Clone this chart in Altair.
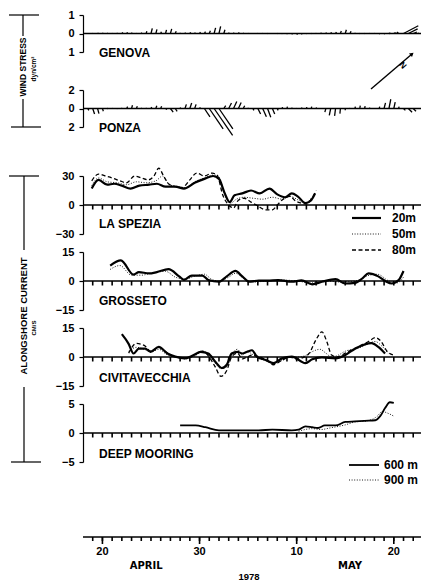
import altair as alt
import pandas as pd

FONT = "Liberation Sans"
W = 338
X_DOMAIN = [18, 52.8]          # days counted from 1 April 1978 (May d = 30 + d)
PX_PER_DAY = W / (X_DOMAIN[1] - X_DOMAIN[0])

# ---------------- wind stress (stick vectors), dyn/cm^2 ----------------
stick_days = [18.5, 19, 19.5, 20, 20.5, 21, 21.5, 22, 22.5, 23, 23.5, 24, 24.5, 25, 25.5,
              26, 26.5, 27, 27.5, 28, 28.5, 29, 29.5, 30, 30.5, 31, 31.5, 32, 32.5, 33,
              33.5, 34, 34.5, 35, 35.5, 36, 36.5, 37, 37.5, 38, 38.5, 39, 39.5, 40, 40.5,
              41, 41.5, 42, 42.5, 43, 43.5, 44, 44.5, 45, 45.5, 46, 46.5, 47, 47.5, 48,
              48.5, 49, 49.5, 50, 50.5, 51, 51.5, 52, 52.5]
genova_u = [0, 0.02, 0.05, 0.05, 0.03, 0.02, 0.03, 0.06, 0.05, 0.04,
            0.02, 0.03, 0.04, 0.07, 0.06, 0.04, 0.05, 0.07, 0.05, 0.02,
            0.03, 0.05, 0.04, 0.05, 0.06, 0.06, 0.08, 0.09, 0.06, 0.03,
            0.04, 0.05, 0.03, 0.02, 0, 0.02, 0.02, 0.01, 0, 0.01,
            0.02, 0.03, 0.04, 0.05, 0.04, 0.02, 0.01, 0.02, 0.03, 0.04,
            0.05, 0.05, 0.05, 0.06, 0.05, 0.03, 0.01, 0.01, 0.02, 0.02,
            0.04, 0.05, 0.08, 0.10, -0.10, 0.80, 0.50, 0.20, 0.05]
genova_v = [0, 0.01, 0.02, 0.03, 0.02, 0.01, 0.02, 0.05, 0.06, 0.04,
            0.01, 0.05, 0.12, 0.28, 0.22, 0.10, 0.20, 0.25, 0.12, 0.03,
            0.05, 0.06, 0.05, 0.08, 0.10, 0.15, 0.30, 0.38, 0.20, 0.05,
            0.04, 0.05, 0.03, 0.01, 0, 0.01, 0.01, 0, 0, 0,
            -0.02, -0.03, -0.04, -0.05, -0.04, -0.02, 0, 0.02, 0.04, 0.05,
            0.06, 0.08, 0.14, 0.20, 0.12, 0.03, 0, 0, 0.01, 0.01,
            -0.02, -0.03, 0.02, 0.05, 0.08, 0.42, 0.25, 0.08, 0.02]
ponza_u = [0.10, 0.20, 0.15, 0.10, 0.05, 0.05, 0.05, 0.05, 0.10, 0.10,
           0.10, 0.05, 0.05, 0.08, 0.10, 0.10, 0.15, 0.30, 0.20, 0.05,
           0.15, 0.20, 0.15, 0.10, 0.60, 1.50, 2.00, 1.50, 0.20, 0.30,
           0.35, 0.30, 0.15, 0.05, 0.10, 0.30, 0.40, 0.35, 0.25, 0.10,
           0.05, 0.05, 0.03, 0.02, 0.05, 0.05, 0.05, 0.05, 0, -0.10,
           -0.15, -0.10, -0.05, 0, 0.02, 0.05, 0.05, 0.05, 0.02, 0,
           0.05, 0.15, 0.20, 0.15, 0.05, 0.20, 0.40, 0.30, 0]
ponza_v = [-0.20, -0.60, -0.55, -0.30, 0, 0.02, -0.03, 0.05, 0.20, 0.35,
           0.25, 0.05, 0.05, 0.15, 0.30, 0.25, -0.10, -0.40, -0.30, 0.10,
           0.45, 0.60, 0.45, 0.10, -0.90, -2.20, -2.90, -2.20, 0.30, 0.60,
           0.75, 0.65, 0.30, 0.05, -0.20, -0.60, -0.90, -0.95, -0.60, -0.20,
           0.15, 0.20, 0.10, 0.02, 0.10, 0.15, 0.20, 0.10, 0, -0.40,
           -0.75, -0.80, -0.55, -0.20, 0.05, 0.20, 0.30, 0.25, 0.10, 0,
           0.20, 0.60, 1.00, 0.70, 0.20, -0.20, -0.40, -0.30, 0]

# ---------------- alongshore current, cm/s ----------------
spezia20_d = [18.9, 19.6, 20.5, 21.2, 22.0, 22.9, 23.8, 24.8, 25.6, 26.5, 27.5, 28.4, 29.5, 30.5, 31.4,
              32.0, 32.6, 33.1, 33.6, 34.4, 35.3, 36.2, 37.2, 38.0, 38.8, 39.5, 40.1, 40.9, 41.5, 41.9]
spezia20_v = [17, 26, 21, 22, 20, 17, 20, 21, 22, 19, 19, 17, 23, 27, 30,
              27, 12, 3, 10, 12, 15, 12, 17, 11, 8, 12, 9, 2, 5, 12]
spezia50_d = [18.9, 19.6, 20.5, 21.5, 22.5, 23.5, 24.5, 25.5, 26.2, 26.9, 27.8, 28.6, 29.5, 30.5, 31.5,
              32.0, 32.6, 33.2, 33.8, 34.6, 35.5, 36.5, 37.5, 38.5, 39.3, 40.2, 40.9, 41.5, 41.9]
spezia50_v = [20, 28, 24, 23, 21, 24, 23, 25, 30, 21, 19, 18, 24, 28, 31,
              29, 10, 2, 6, 8, 7, 6, 8, 6, 9, 5, 2, 7, 12]
spezia80_d = [18.9, 19.6, 20.3, 21.0, 21.8, 22.5, 23.3, 24.0, 24.7, 25.3, 25.8, 26.3, 26.8, 27.5, 28.2,
              29.0, 29.7, 30.5, 31.3, 31.8, 32.4, 33.0, 33.5, 34.0, 34.6, 35.3, 36.0, 36.8, 37.5, 38.0,
              38.6, 39.3, 39.9, 40.5, 41.0, 41.5, 42.0]
spezia80_v = [25, 32, 30, 28, 25, 23, 30, 28, 26, 30, 38, 30, 22, 19, 18,
              26, 33, 30, 33, 31, 10, 0, -3, 5, 7, 3, -1, -5, -5, 0,
              6, 9, 4, 2, 1, 6, 15]

grosseto20_d = [20.8, 21.9, 23.2, 23.75, 24.8, 25.6, 26.8, 27.9, 28.4, 29.2, 30.3, 30.9, 32.0, 32.8, 33.7,
                34.4, 35.1, 36.1, 37.0, 38.1, 39.5, 40.5, 41.6, 42.6, 44.0, 45.0, 46.0, 46.8, 47.4, 48.4,
                49.2, 49.8, 50.5, 51.0]
grosseto20_v = [8, 10.7, 3.3, 4.6, 3.9, 4.6, 6.1, 2.4, 0.6, 2.8, 2.8, 0.5, -0.4, 2.4, 5.2,
                2.4, -0.4, 0.2, 0.2, 0.5, -0.4, 0.3, -1.7, -0.4, 1, -1.3, -1, 1.5, 3.9, 2.4,
                -0.3, -1.3, 0.5, 5.2]
grosseto50_d = [20.8, 21.8, 23.0, 24.0, 25.0, 26.5, 27.5, 28.5, 29.5, 30.5, 31.2, 32.0, 33.0, 33.7, 34.5,
                35.5, 37.0, 38.5, 40.0, 41.5, 43.0, 44.5, 46.0, 47.5, 48.3, 49.5, 50.3, 51.0]
grosseto50_v = [6, 8, 3, 3, 4, 5, 2, 1, 2.5, 3.5, 1, 0, 2, 4, 1.5,
                -0.5, 0, 0.5, 0, -1, 0, -0.5, 0, 3, 3.5, 0, -1, 2]

civita20_d = [22.0, 22.7, 23.2, 23.75, 24.4, 24.95, 25.8, 26.7, 27.5, 28.5, 29.4, 30.1, 30.9, 31.6, 32.3,
              32.8, 33.3, 33.9, 34.4, 34.9, 35.4, 35.9, 36.8, 37.6, 38.5, 39.5, 40.9, 41.6, 42.6, 44.0,
              45.0, 46.0, 47.0, 47.7, 48.4, 49.1]
civita20_v = [11.8, 6.8, 1.8, 4.3, 4.3, 2.7, 5.2, 1.8, 0.2, -0.7, 1.0, 2.7, 1.8, -2.3, -5.7,
              -4.0, 1.8, 2.7, 1.8, 2.7, 3.5, 0.2, -1.5, -3.2, -0.7, 0.2, -3.2, -1.2, -0.2, -0.7,
              1.0, 4.3, 6.5, 7.2, 5.2, 1.8]
civita50_d = [22.7, 23.5, 24.3, 25.0, 25.8, 26.7, 27.5, 28.5, 29.5, 30.3, 31.0, 31.6, 32.2, 32.8, 33.3,
              33.9, 34.4, 34.9, 35.4, 36.2, 37.0, 37.6, 38.4, 39.3, 40.3, 41.0, 41.7, 42.4, 43.0, 43.6,
              44.3, 45.0, 45.8, 46.6, 47.4, 48.1, 48.7, 49.4]
civita50_v = [3, 5, 4, 2.5, 4, 1, 0, -1, 0.5, 3, 1, -3, -6, -5, 1,
              4, 1, 3, 1.5, -1, -2, -3, -2, 0, 0, 1, 3, 4, 2, 0,
              1, 3, 4, 5, 7, 8, 6, 2]
civita80_d = [22.7, 23.5, 24.3, 25.0, 25.8, 26.7, 27.5, 28.5, 29.5, 30.3, 31.0, 31.6, 32.2, 32.8, 33.3,
              33.9, 34.4, 34.9, 35.4, 36.2, 37.0, 37.6, 38.4, 39.3, 40.0, 40.8, 41.3, 42.0, 42.6, 43.1,
              43.6, 44.2, 45.0, 45.8, 46.6, 47.4, 48.1, 48.7, 49.3, 50.0]
civita80_v = [2, 7, 6, 3, 5, 2, 0, -0.5, 1, 3, 0, -5, -10, -7, 0,
              2, -1, 0, 1, 0, -2, -4, -2, 0, -1, 0, 2, 9, 13, 8,
              1, 0, 2, 4, 6, 8, 10, 8, 3, 1]

deep600_d = [28.0, 29.6, 30.6, 32.0, 34.0, 36.1, 37.5, 39.5, 40.2, 40.9, 41.6, 42.2, 42.9, 44.0, 45.0,
             46.0, 47.0, 48.1, 48.6, 49.1, 49.6, 50.0]
deep600_v = [1.3, 1.3, 1.0, 0.46, 0.46, 0.46, 0.57, 0.46, 0.57, 1.15, 1.0, 0.86, 1.3, 1.3, 1.9,
             2.0, 2.1, 2.2, 2.9, 4.3, 5.3, 5.2]
deep900_d = [40.2, 41.6, 42.5, 43.4, 45.0, 46.0, 47.3, 48.3, 48.8, 49.4, 50.0]
deep900_v = [0.3, 0.75, 0.6, 0.86, 1.4, 1.9, 2.1, 2.9, 3.7, 3.4, 2.9]

tick_days = [19, 20, 21, 22, 23, 24, 25, 26, 27, 28, 29, 30, 31, 32, 33, 34, 35,
             36, 37, 38, 39, 40, 41, 42, 43, 44, 45, 46, 47, 48, 49, 50, 51, 52]
major_days = [20, 30, 40, 50]
major_labels = ["20", "30", "10", "20"]
month_days = [24.5, 45.5]
month_labels = ["APRIL", "MAY"]
year_day = [35.1]
year_label = ["1978"]

# ---------------- helpers ----------------
xscale = alt.Scale(domain=X_DOMAIN, nice=False, zero=False)


def X(field):
    return alt.X(f"{field}:Q", scale=xscale, axis=None)


class Panel:
    def __init__(self, lo, hi, height, expr=None):
        self.lo, self.hi, self.h = lo, hi, height
        ax = dict(values=[lo, 0, hi], title=None, grid=False)
        if expr:
            ax["labelExpr"] = expr
        self.axis = alt.Axis(**ax)
        self.scale = alt.Scale(domain=[lo, hi], nice=False, zero=False)

    def Y(self, field):
        return alt.Y(f"{field}:Q", scale=self.scale, axis=self.axis)

    def zero(self):
        df = pd.DataFrame({"a": [X_DOMAIN[0]], "b": [X_DOMAIN[1]], "z": [0.0]})
        return alt.Chart(df).mark_rule(color="black", strokeWidth=1.3).encode(
            x=X("a"), x2="b:Q", y=self.Y("z"))

    def ticks(self, length_px=4.5):
        per_px = (self.hi - self.lo) / self.h
        df = pd.DataFrame({"tday": [float(d) for d in tick_days],
                           "t0": [0.0] * len(tick_days),
                           "t1": [-length_px * per_px] * len(tick_days)})
        return alt.Chart(df).mark_rule(color="black", strokeWidth=1.6).encode(
            x=X("tday"), y=self.Y("t0"), y2="t1:Q")

    def sticks(self, u, v):
        k = (self.h / (self.hi - self.lo)) / PX_PER_DAY
        df = pd.DataFrame({"day": stick_days, "u": u, "v": v, "z": [0.0] * len(u)})
        return alt.Chart(df).transform_calculate(end=f"datum.day + datum.u * {k}").mark_rule(
            color="black", strokeWidth=1.3).encode(
            x=X("day"), x2="end:Q", y=self.Y("z"), y2="v:Q")

    def curve(self, days, vals, width, dash=None):
        df = pd.DataFrame({"day": days, "val": vals})
        mk = dict(color="black", strokeWidth=width, interpolate="monotone")
        if dash:
            mk["strokeDash"] = dash
        return alt.Chart(df).mark_line(**mk).encode(x=X("day"), y=self.Y("val"))


def text(txt, x, y, size=11, angle=0, align="left", font=FONT):
    return alt.Chart(pd.DataFrame({"t": [txt]})).mark_text(
        align=align, baseline="middle", fontSize=size, fontWeight="bold", font=font,
        angle=angle, color="black").encode(x=alt.value(x), y=alt.value(y), text="t:N")


def prule(x, y, x2, y2, width=1.2, dash=None):
    mk = dict(color="black", strokeWidth=width)
    if dash:
        mk["strokeDash"] = dash
    return alt.Chart(pd.DataFrame({"k": [0]})).mark_rule(**mk).encode(
        x=alt.value(x), y=alt.value(y), x2=alt.value(x2), y2=alt.value(y2))


def spacer(h):
    return alt.Chart(pd.DataFrame({"k": [0]})).mark_point(opacity=0).encode(
        x=alt.value(0), y=alt.value(0)).properties(width=W, height=h)


DOT = [1, 1.6]
DASH = [4, 2.5]

# ---------------- panels ----------------
HW = 37
pg = Panel(-1, 1, HW, "datum.value == 0 ? '0' : '1'")
genova = alt.layer(
    pg.zero(),
    pg.sticks(genova_u, genova_v),
    text("GENOVA", 16, 38, size=12),
    # WIND STRESS bracket
    prule(-74, 0, -44, 0), prule(-60, 0, -60, 21),
    text("WIND STRESS", -60, 52, size=8.5, angle=270, align="center"),
    text("dyn/cm²", -49, 54, size=6.5, angle=270, align="center"),
    prule(-60, 84, -60, 112), prule(-72, 112, -42, 112),
).properties(width=W, height=HW)

pp = Panel(-2, 2, HW, "datum.value == 0 ? '0' : '2'")
ponza = alt.layer(
    pp.zero(),
    pp.sticks(ponza_u, ponza_v),
    text("PONZA", 16, 38, size=12),
    prule(288, -1, 329, -36, width=1.4),
    alt.Chart(pd.DataFrame({"k": [0]})).mark_point(
        shape="triangle-up", filled=True, size=22, angle=49, color="black", opacity=1).encode(
        x=alt.value(329), y=alt.value(-36)),
    text("N", 320, -25, size=8.5, angle=49, align="center"),
).properties(width=W, height=HW)

HC = 58
ps = Panel(-30, 30, HC)
spezia = alt.layer(
    ps.zero(), ps.ticks(),
    ps.curve(spezia50_d, spezia50_v, 0.9, DOT),
    ps.curve(spezia80_d, spezia80_v, 1.3, DASH),
    ps.curve(spezia20_d, spezia20_v, 2.2),
    text("LA SPEZIA", 16, 48, size=12),
    prule(269, 42, 298, 42, width=2.2), text("20m", 309, 42, size=12),
    prule(269, 58, 298, 58, width=0.9, dash=DOT), text("50m", 309, 58, size=12),
    prule(269, 74, 298, 74, width=1.3, dash=DASH), text("80m", 309, 74, size=12),
    # ALONGSHORE CURRENT bracket
    prule(-74, 0, -44, 0), prule(-59, 0, -59, 74),
    text("ALONGSHORE CURRENT", -59, 140, size=9.5, angle=270, align="center"),
    text("CM/S", -49, 152, size=6, angle=270, align="center"),
    prule(-59, 211, -59, 286), prule(-72, 286, -42, 286),
).properties(width=W, height=HC)

pgr = Panel(-15, 15, HC)
grosseto = alt.layer(
    pgr.zero(), pgr.ticks(),
    pgr.curve(grosseto50_d, grosseto50_v, 0.9, DOT),
    pgr.curve(grosseto20_d, grosseto20_v, 2.2),
    text("GROSSETO", 16, 49, size=12),
).properties(width=W, height=HC)

pc = Panel(-15, 15, HC)
civita = alt.layer(
    pc.zero(), pc.ticks(),
    pc.curve(civita50_d, civita50_v, 0.9, DOT),
    pc.curve(civita80_d, civita80_v, 1.3, DASH),
    pc.curve(civita20_d, civita20_v, 2.2),
    text("CIVITAVECCHIA", 16, 50, size=12),
).properties(width=W, height=HC)

pd5 = Panel(-5, 5, HC)
deep = alt.layer(
    pd5.zero(), pd5.ticks(),
    pd5.curve(deep900_d, deep900_v, 0.9, DOT),
    pd5.curve(deep600_d, deep600_v, 1.8),
    text("DEEP MOORING", 16, 50, size=12),
    prule(266, 61, 296, 61, width=1.8), text("600 m", 301, 61, size=12),
    prule(266, 76, 296, 76, width=0.9, dash=DOT), text("900 m", 301, 76, size=12),
).properties(width=W, height=HC)

# time axis (panel of 1 px height: one y unit = one pixel)
ty = alt.Y("z:Q", scale=alt.Scale(domain=[0, 1], nice=False, zero=False), axis=None)
tline = alt.Chart(pd.DataFrame({"a": [X_DOMAIN[0]], "b": [X_DOMAIN[1]], "z": [0.0]})).mark_rule(
    color="black", strokeWidth=1.4).encode(x=X("a"), x2="b:Q", y=ty)
tminor = alt.Chart(pd.DataFrame({"day": [float(d) for d in tick_days],
                                 "z": [0.0] * len(tick_days),
                                 "zb": [-4.0] * len(tick_days)})).mark_rule(
    color="black", strokeWidth=1.6).encode(x=X("day"), y=ty, y2="zb:Q")
tmajor_df = pd.DataFrame({"day": major_days, "lab": major_labels, "z": [0.0] * 4, "zb": [-7.0] * 4})
tmajor = alt.Chart(tmajor_df).mark_rule(color="black", strokeWidth=1.6).encode(
    x=X("day"), y=ty, y2="zb:Q")
tlab = alt.Chart(tmajor_df).mark_text(
    dy=15, fontSize=11, fontWeight="bold", font=FONT, color="black").encode(
    x=X("day"), y=ty, text="lab:N")
tmonth = alt.Chart(pd.DataFrame({"day": month_days, "lab": month_labels, "z": [0.0, 0.0]})).mark_text(
    dy=29, fontSize=10, fontWeight="bold", font="DejaVu Sans", color="black").encode(
    x=X("day"), y=ty, text="lab:N")
tyear = alt.Chart(pd.DataFrame({"day": year_day, "lab": year_label, "z": [0.0]})).mark_text(
    dy=40, fontSize=9.5, fontWeight="bold", font=FONT, color="black").encode(
    x=X("day"), y=ty, text="lab:N")
timeaxis = alt.layer(tline, tminor, tmajor, tlab, tmonth, tyear).properties(width=W, height=1)

chart = alt.vconcat(
    genova, spacer(38), ponza, spacer(49),
    spezia, spacer(18), grosseto, spacer(18), civita, spacer(18), deep, spacer(74),
    timeaxis, spacing=0, bounds="flush",
).properties(
    padding={"left": 8, "top": 9, "right": 0, "bottom": 0},
    background="white",
).configure_view(stroke=None).configure_axis(
    domainColor="black", tickColor="black", labelColor="black", labelFont=FONT,
    labelFontWeight="bold", labelFontSize=11, tickSize=4, labelPadding=5,
    domainWidth=1.2, tickWidth=1.2,
)

chart.save("out.html", embed_options={"renderer": "svg", "actions": False})
